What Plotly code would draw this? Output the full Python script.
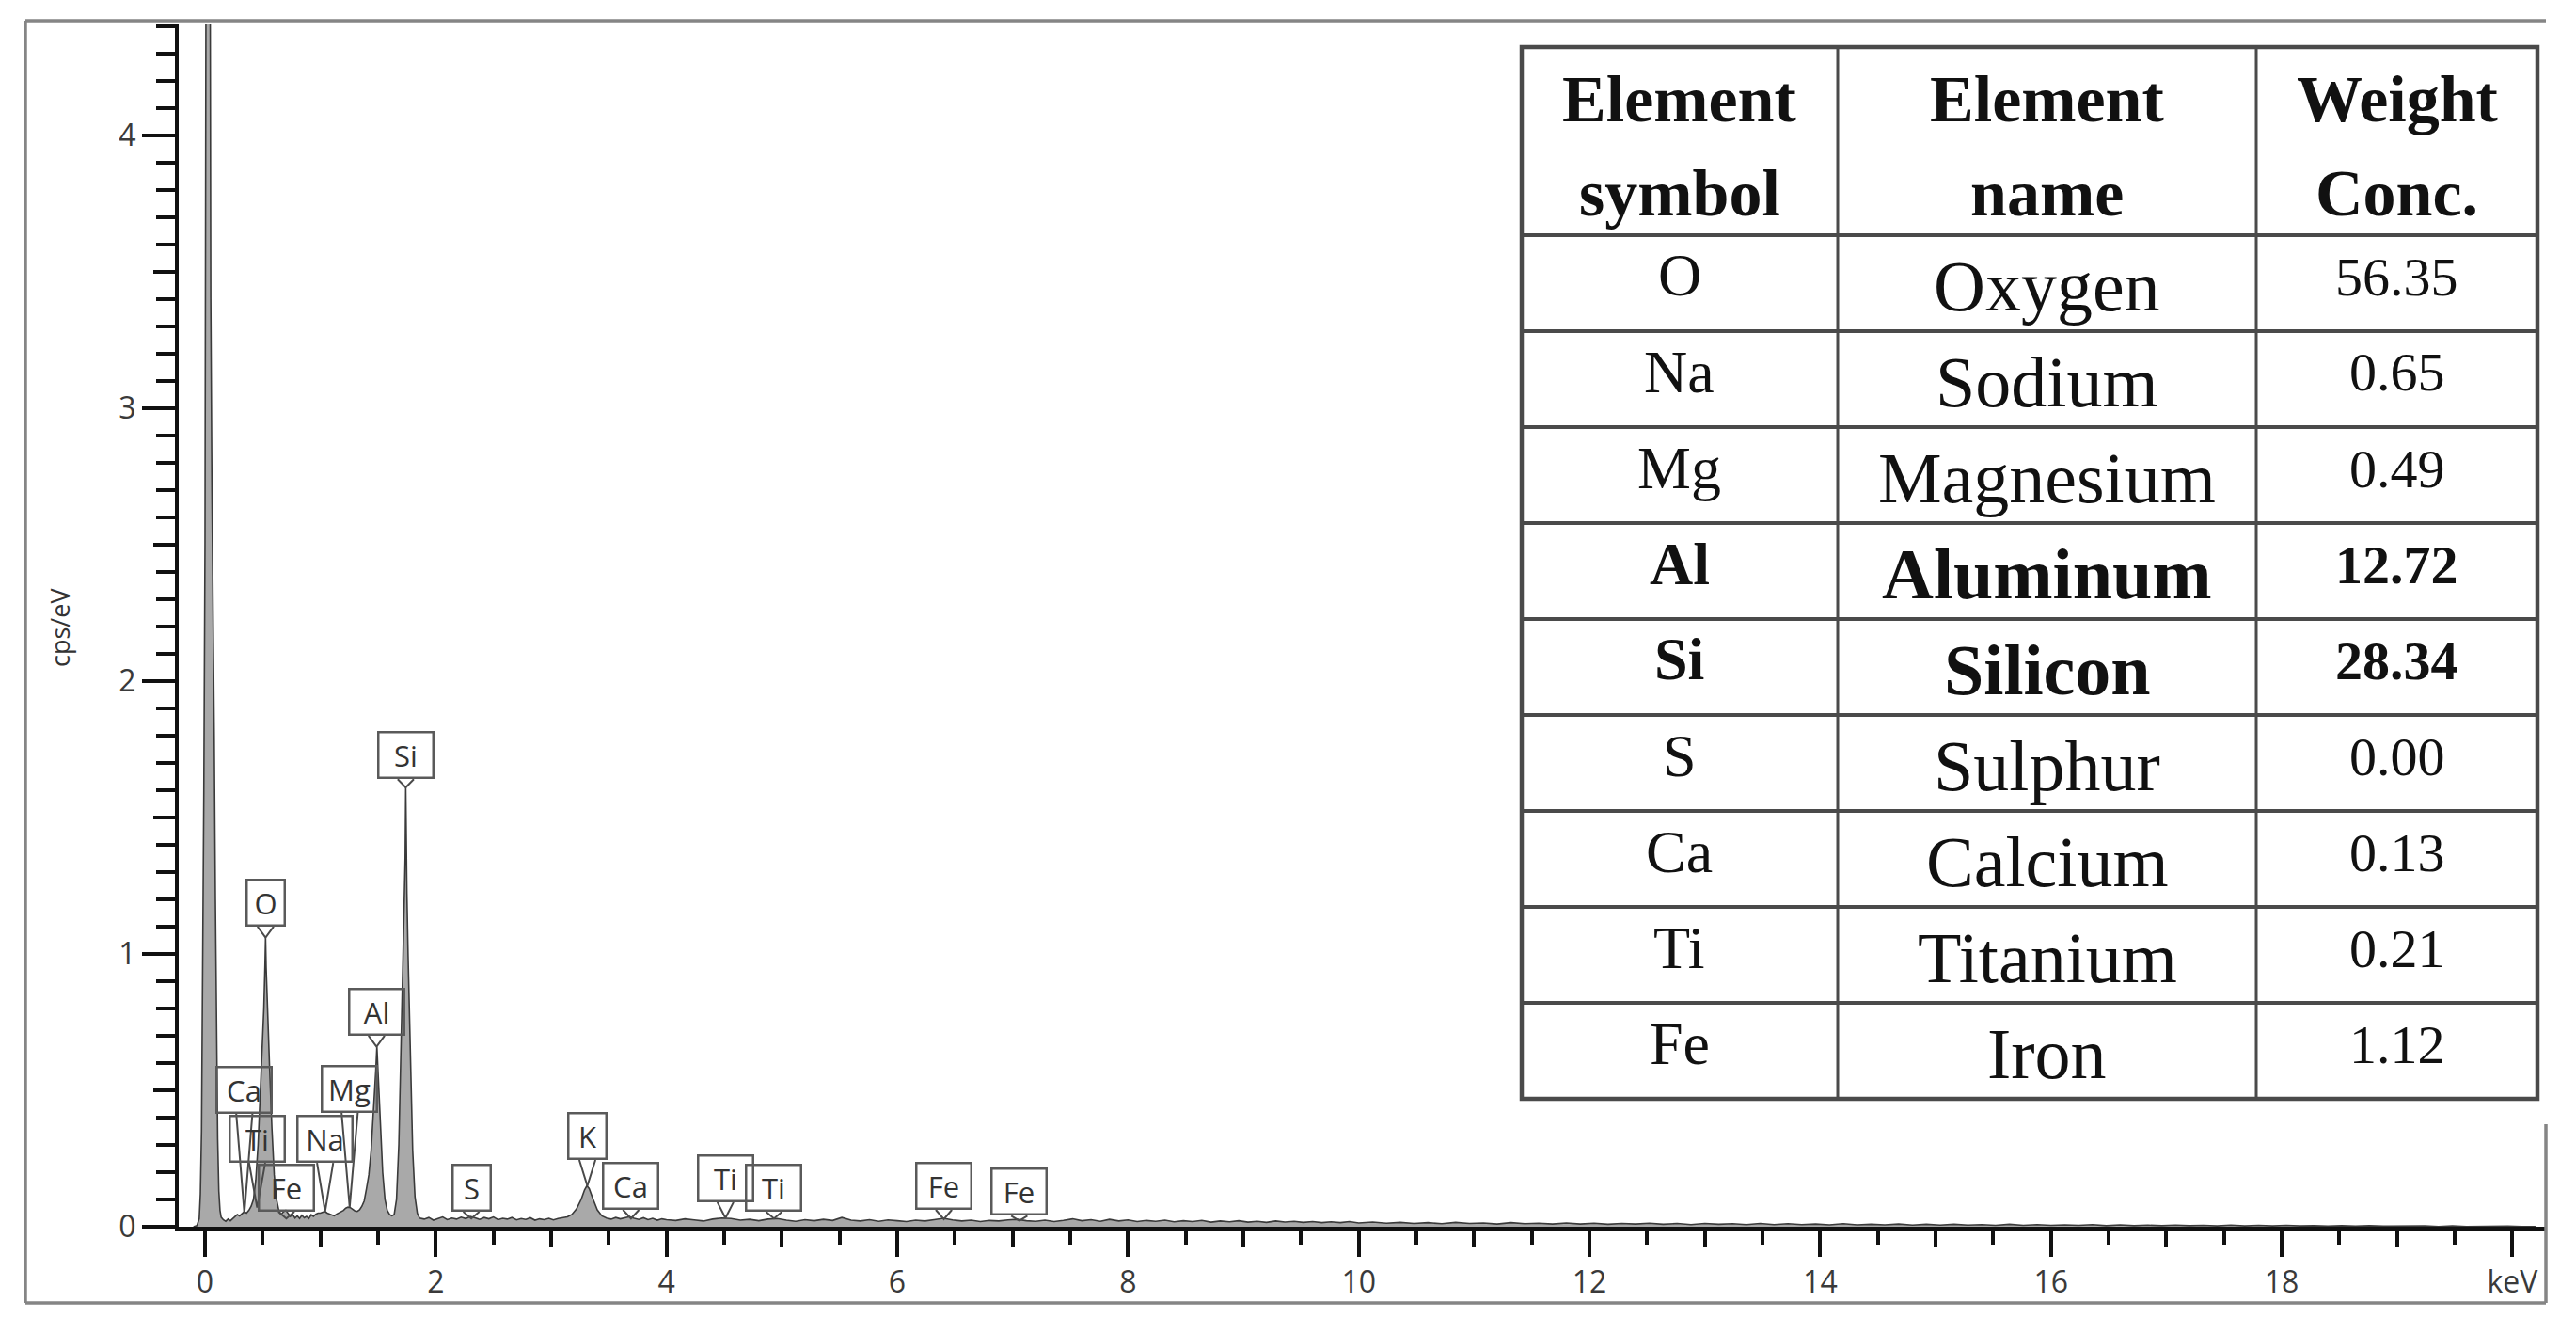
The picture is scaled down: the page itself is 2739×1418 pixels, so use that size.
import plotly.graph_objects as go

# --- spectrum (keV, cps/eV) ---
energy_low = [
    -0.10, -0.07, -0.05, -0.04, -0.03, -0.02, -0.01, 0.00, 0.01, 0.02, 0.03, 0.04, 0.05, 0.06,
    0.07, 0.08, 0.09, 0.10, 0.11, 0.12, 0.13, 0.14, 0.16, 0.18, 0.20, 0.22, 0.24, 0.26, 0.28,
    0.30, 0.32, 0.34, 0.36, 0.38, 0.40, 0.42, 0.44, 0.46, 0.48, 0.50, 0.51, 0.52, 0.525, 0.53,
    0.54, 0.55, 0.56, 0.58, 0.60, 0.62, 0.64, 0.66, 0.68, 0.70, 0.72, 0.74, 0.76, 0.78, 0.80,
    0.82, 0.84, 0.86, 0.88, 0.90, 0.92, 0.94, 0.96, 0.98, 1.00, 1.02, 1.04, 1.06, 1.08, 1.10,
    1.12, 1.14, 1.16, 1.18, 1.20, 1.22, 1.24, 1.26, 1.28, 1.30, 1.32, 1.34, 1.36, 1.38, 1.40,
    1.42, 1.44, 1.46, 1.48, 1.49, 1.50, 1.52, 1.54, 1.56, 1.58, 1.60, 1.62, 1.64, 1.66, 1.68,
    1.70, 1.72, 1.73, 1.735, 1.74, 1.745, 1.75, 1.76, 1.78, 1.80, 1.82, 1.84, 1.86,
]
cps_low = [
    0.000, 0.004, 0.03, 0.12, 0.35, 0.85, 1.60, 2.50, 3.30, 5.20, 9.80, 5.60, 3.40, 2.70,
    2.30, 1.80, 1.20, 0.70, 0.32, 0.13, 0.06, 0.035, 0.025, 0.02, 0.028, 0.022, 0.03, 0.038, 0.045,
    0.04, 0.048, 0.055, 0.05, 0.06, 0.075, 0.10, 0.17, 0.30, 0.50, 0.68, 0.80, 0.96, 1.06, 0.95,
    0.80, 0.68, 0.58, 0.36, 0.19, 0.10, 0.06, 0.045, 0.055, 0.06, 0.05, 0.038, 0.045, 0.032, 0.04,
    0.03, 0.042, 0.033, 0.038, 0.03, 0.044, 0.038, 0.046, 0.05, 0.05, 0.052, 0.056, 0.05, 0.046, 0.042,
    0.04, 0.046, 0.05, 0.055, 0.06, 0.068, 0.072, 0.07, 0.064, 0.058, 0.056, 0.062, 0.075, 0.095, 0.14,
    0.19, 0.28, 0.41, 0.57, 0.66, 0.56, 0.37, 0.20, 0.10, 0.06, 0.045, 0.04, 0.045, 0.10, 0.30,
    0.70, 1.05, 1.25, 1.35, 1.61, 1.35, 1.22, 1.00, 0.62, 0.28, 0.11, 0.05, 0.032,
]

energy_mid = [
    1.90, 1.94, 1.98, 2.02, 2.06, 2.10, 2.14, 2.18, 2.22, 2.26, 2.30, 2.34, 2.38, 2.42, 2.46,
    2.50, 2.54, 2.58, 2.62, 2.66, 2.70, 2.74, 2.78, 2.82, 2.86, 2.90, 2.94, 2.98, 3.02, 3.06,
    3.10, 3.14, 3.18, 3.22, 3.26, 3.29, 3.31, 3.33, 3.36, 3.40, 3.44, 3.48, 3.52, 3.56, 3.60,
    3.64, 3.68, 3.72, 3.76, 3.80, 3.84, 3.88, 3.92, 3.96, 4.00,
]
cps_mid = [
    0.028, 0.034, 0.024, 0.03, 0.036, 0.026, 0.032, 0.028, 0.035, 0.03, 0.038, 0.033, 0.027, 0.034, 0.029,
    0.036, 0.026, 0.031, 0.028, 0.034, 0.025, 0.03, 0.027, 0.033, 0.024, 0.029, 0.026, 0.031, 0.025, 0.03,
    0.033, 0.036, 0.045, 0.065, 0.10, 0.135, 0.15, 0.14, 0.105, 0.062, 0.04, 0.032, 0.028, 0.034, 0.029,
    0.033, 0.037, 0.031, 0.027, 0.033, 0.026, 0.031, 0.024, 0.029, 0.026,
]

energy_high = [
    4.08, 4.16, 4.24, 4.32, 4.40, 4.48, 4.56, 4.64, 4.72, 4.80, 4.88, 4.96, 5.04, 5.12, 5.20,
    5.28, 5.36, 5.44, 5.52, 5.60, 5.68, 5.76, 5.84, 5.92, 6.00, 6.08, 6.16, 6.24, 6.32, 6.40,
    6.48, 6.56, 6.64, 6.72, 6.80, 6.88, 6.96, 7.04, 7.12, 7.20, 7.28, 7.36, 7.44, 7.52, 7.60,
    7.68, 7.76, 7.84, 7.92, 8.00, 8.08, 8.16, 8.24, 8.32, 8.40, 8.48, 8.56, 8.64, 8.72, 8.80,
    8.88, 8.96, 9.04, 9.12, 9.20, 9.28, 9.36, 9.44, 9.52, 9.60, 9.68, 9.76, 9.84, 9.92, 10.00,
]
cps_high = [
    0.023, 0.029, 0.025, 0.021, 0.028, 0.032, 0.03, 0.024, 0.027, 0.022, 0.028, 0.03, 0.024, 0.02, 0.026,
    0.022, 0.027, 0.023, 0.034, 0.024, 0.021, 0.026, 0.02, 0.025, 0.022, 0.019, 0.024, 0.021, 0.026, 0.031,
    0.025, 0.021, 0.024, 0.019, 0.023, 0.021, 0.025, 0.027, 0.022, 0.02, 0.024, 0.019, 0.023, 0.029, 0.022,
    0.026, 0.02, 0.027, 0.021, 0.025, 0.019, 0.023, 0.02, 0.024, 0.018, 0.022, 0.019, 0.023, 0.017, 0.021,
    0.018, 0.022, 0.017, 0.02, 0.016, 0.021, 0.017, 0.02, 0.016, 0.019, 0.015, 0.018, 0.015, 0.019, 0.014,
]

energy_tail = [
    10.12, 10.24, 10.36, 10.48, 10.60, 10.72, 10.84, 10.96, 11.08, 11.20, 11.32, 11.44, 11.56, 11.68, 11.80,
    11.92, 12.04, 12.16, 12.28, 12.40, 12.52, 12.64, 12.76, 12.88, 13.00, 13.12, 13.24, 13.36, 13.48, 13.60,
    13.72, 13.84, 13.96, 14.08, 14.20, 14.32, 14.44, 14.56, 14.68, 14.80, 14.92, 15.04, 15.16, 15.28, 15.40,
    15.52, 15.64, 15.76, 15.88, 16.00, 16.12, 16.24, 16.36, 16.48, 16.60, 16.72, 16.84, 16.96, 17.08, 17.20,
    17.32, 17.44, 17.56, 17.68, 17.80, 17.92, 18.04, 18.16, 18.28, 18.40, 18.52, 18.64, 18.76, 18.88, 19.00,
    19.12, 19.24, 19.36, 19.48, 19.60, 19.72, 19.84, 19.96, 20.08, 20.20,
]
cps_tail = [
    0.017, 0.013, 0.016, 0.012, 0.015, 0.011, 0.016, 0.012, 0.014, 0.01, 0.015, 0.011, 0.013, 0.01, 0.014,
    0.01, 0.013, 0.009, 0.012, 0.01, 0.013, 0.009, 0.012, 0.008, 0.012, 0.009, 0.011, 0.008, 0.012, 0.008,
    0.011, 0.008, 0.01, 0.007, 0.011, 0.007, 0.009, 0.007, 0.01, 0.006, 0.009, 0.006, 0.009, 0.006, 0.008,
    0.005, 0.009, 0.005, 0.008, 0.005, 0.007, 0.005, 0.008, 0.004, 0.007, 0.004, 0.006, 0.004, 0.006, 0.004,
    0.005, 0.003, 0.006, 0.003, 0.005, 0.003, 0.005, 0.003, 0.004, 0.002, 0.004, 0.002, 0.004, 0.002, 0.003,
    0.002, 0.003, 0.001, 0.003, 0.001, 0.002, 0.001, 0.002, 0.001, 0.001,
]

# --- element markers ---
marker_names = ["Ca", "Ti", "Fe", "O", "Na", "Mg", "Al", "Si", "S", "K", "Ca", "Ti", "Ti", "Fe", "Fe"]
marker_kev = [0.341, 0.452, 0.705, 0.525, 1.041, 1.254, 1.487, 1.740, 2.308, 3.314, 3.692, 4.511, 4.932, 6.404, 7.058]
marker_box_y = [0.414, 0.234, 0.055, 1.10, 0.234, 0.417, 0.70, 1.64, 0.055, 0.245, 0.062, 0.09, 0.055, 0.062, 0.04]
marker_tip_y = [0.05, 0.07, 0.03, 1.06, 0.056, 0.072, 0.66, 1.61, 0.03, 0.15, 0.03, 0.032, 0.03, 0.028, 0.022]

# --- table ---
table_header = [["Element", "symbol"], ["Element", "name"], ["Weight", "Conc."]]
element_symbols = ["O", "Na", "Mg", "Al", "Si", "S", "Ca", "Ti", "Fe"]
element_names = ["Oxygen", "Sodium", "Magnesium", "Aluminum", "Silicon", "Sulphur", "Calcium", "Titanium", "Iron"]
weight_conc = ["56.35", "0.65", "0.49", "12.72", "28.34", "0.00", "0.13", "0.21", "1.12"]
bold_rows = ["Al", "Si"]

x_ticks = [0, 2, 4, 6, 8, 10, 12, 14, 16, 18, 20]
x_ticktext = ["0", "2", "4", "6", "8", "10", "12", "14", "16", "18", "keV"]
x_mid_ticks = [1, 3, 5, 7, 9, 11, 13, 15, 17, 19]
y_ticks = [0, 1, 2, 3, 4]
y_mid_ticks = [0.5, 1.5, 2.5, 3.5]

# page geometry (pixels)
W, H = 2723, 1402
L, R, T, B = 182, 24, 17, 106
PW, PH = W - L - R, H - T - B
X_RANGE = [-0.228, 20.29]
Y_RANGE = [0, 4.409]


def px(xp):
    return (xp - L) / PW


def py(yp):
    return 1 - (yp - T) / PH


energy = energy_low + energy_mid + energy_high + energy_tail
cps = cps_low + cps_mid + cps_high + cps_tail

fig = go.Figure()
fig.add_trace(
    go.Scatter(
        x=energy, y=cps, mode="lines",
        line=dict(color="#3a3a3a", width=1.6),
        fill="tozeroy", fillcolor="#a9a9a9",
        hoverinfo="skip", showlegend=False,
    )
)

# V-shaped pointers from each label box down to its peak
half_w = 0.07
vx, vy = [], []
for e, yb, yt in zip(marker_kev, marker_box_y, marker_tip_y):
    vx += [e - half_w, e, e + half_w, None]
    vy += [yb, yt, yb, None]
fig.add_trace(
    go.Scatter(
        x=vx, y=vy, mode="lines", xaxis="x2", yaxis="y2",
        line=dict(color="#4a4a4a", width=2),
        hoverinfo="skip", showlegend=False,
    )
)

annotations = []
for name, e, yb in zip(marker_names, marker_kev, marker_box_y):
    annotations.append(dict(
        x=e, y=yb, xref="x", yref="y", xanchor="center", yanchor="bottom",
        text=name, showarrow=False,
        font=dict(family="Open Sans", size=31, color="#333333"),
        bordercolor="#5a5a5a", borderwidth=2.5, borderpad=0,
        width=18 * len(name) + 20, height=46,
    ))

annotations.append(dict(
    x=px(55), y=py(659), xref="paper", yref="paper", text="cps/eV",
    xanchor="center", yanchor="middle", textangle=-90, showarrow=False,
    font=dict(family="Open Sans", size=27, color="#333333"),
))

shapes = []
frame = dict(type="line", xref="paper", yref="paper", line=dict(color="#858585", width=3.5), layer="above")
shapes.append({**frame, "x0": px(19), "y0": py(14), "x1": px(2699), "y1": py(14)})
shapes.append({**frame, "x0": px(19), "y0": py(14), "x1": px(19), "y1": py(1377)})
shapes.append({**frame, "x0": px(19), "y0": py(1377), "x1": px(2699), "y1": py(1377)})
shapes.append({**frame, "x0": px(2699), "y0": py(1187), "x1": px(2699), "y1": py(1377)})

# table grid
cols = [1610, 1946, 2391, 2690]
t_top, h_bot, row_h = 42, 242, 102
n_rows = len(element_symbols)
t_bot = h_bot + row_h * n_rows
grid = dict(type="line", xref="paper", yref="paper", layer="above")
for k in range(n_rows):
    yl = h_bot + row_h * k
    shapes.append({**grid, "x0": px(cols[0]), "x1": px(cols[-1]), "y0": py(yl), "y1": py(yl),
                   "line": dict(color="#4a4a4a", width=4)})
for c in cols[1:-1]:
    shapes.append({**grid, "x0": px(c), "x1": px(c), "y0": py(t_top), "y1": py(t_bot),
                   "line": dict(color="#4a4a4a", width=3)})
shapes.append(dict(type="rect", xref="paper", yref="paper", layer="above",
                   x0=px(cols[0]), x1=px(cols[-1]), y0=py(t_top), y1=py(t_bot),
                   line=dict(color="#4a4a4a", width=4.5)))

centers = [(cols[i] + cols[i + 1]) / 2 for i in range(3)]
serif = "Liberation Serif"
for c, (l1, l2) in zip(centers, table_header):
    for txt, yc in ((l1, 98), (l2, 198)):
        annotations.append(dict(
            x=px(c), y=py(yc), xref="paper", yref="paper",
            xanchor="center", yanchor="middle",
            text="<b>%s</b>" % txt, showarrow=False,
            font=dict(family=serif, size=70, color="#111111"),
        ))

for k, (sym, nm, wt) in enumerate(zip(element_symbols, element_names, weight_conc)):
    top = h_bot + row_h * k
    fmt = "<b>%s</b>" if sym in bold_rows else "%s"
    for c, txt, dy, size in ((centers[0], sym, 43, 64), (centers[1], nm, 54, 76), (centers[2], wt, 44, 58)):
        annotations.append(dict(
            x=px(c), y=py(top + dy), xref="paper", yref="paper",
            xanchor="center", yanchor="middle",
            text=fmt % txt, showarrow=False,
            font=dict(family=serif, size=size, color="#111111"),
        ))

tick_font = dict(family="Open Sans", size=32, color="#3a3a3a")
fig.update_layout(
    width=W, height=H,
    margin=dict(l=L, r=R, t=T, b=B, pad=0),
    paper_bgcolor="white", plot_bgcolor="white",
    showlegend=False,
    xaxis=dict(
        range=X_RANGE, showgrid=False, zeroline=False,
        showline=True, linecolor="#111111", linewidth=4,
        ticks="outside", tickvals=x_ticks, ticktext=x_ticktext,
        ticklen=28, tickwidth=4, tickcolor="#111111", tickfont=tick_font,
        minor=dict(tick0=0, dtick=0.5, ticks="outside", ticklen=15, tickwidth=4,
                   tickcolor="#111111", showgrid=False),
    ),
    yaxis=dict(
        range=Y_RANGE, showgrid=False, zeroline=False,
        showline=True, linecolor="#111111", linewidth=4,
        ticks="outside", tickvals=y_ticks,
        ticklen=35, tickwidth=4, tickcolor="#111111", tickfont=tick_font,
        minor=dict(tick0=0, dtick=0.1, ticks="outside", ticklen=20, tickwidth=4,
                   tickcolor="#111111", showgrid=False),
    ),
    xaxis2=dict(
        range=X_RANGE, overlaying="x", anchor="y2", side="bottom",
        showgrid=False, zeroline=False, showline=False, showticklabels=False,
        ticks="outside", tickvals=x_mid_ticks, ticklen=21, tickwidth=4, tickcolor="#111111",
    ),
    yaxis2=dict(
        range=Y_RANGE, overlaying="y", anchor="x2", side="left",
        showgrid=False, zeroline=False, showline=False, showticklabels=False,
        ticks="outside", tickvals=y_mid_ticks, ticklen=26, tickwidth=4, tickcolor="#111111",
    ),
    annotations=annotations,
    shapes=shapes,
)

fig.write_html("out.html")
